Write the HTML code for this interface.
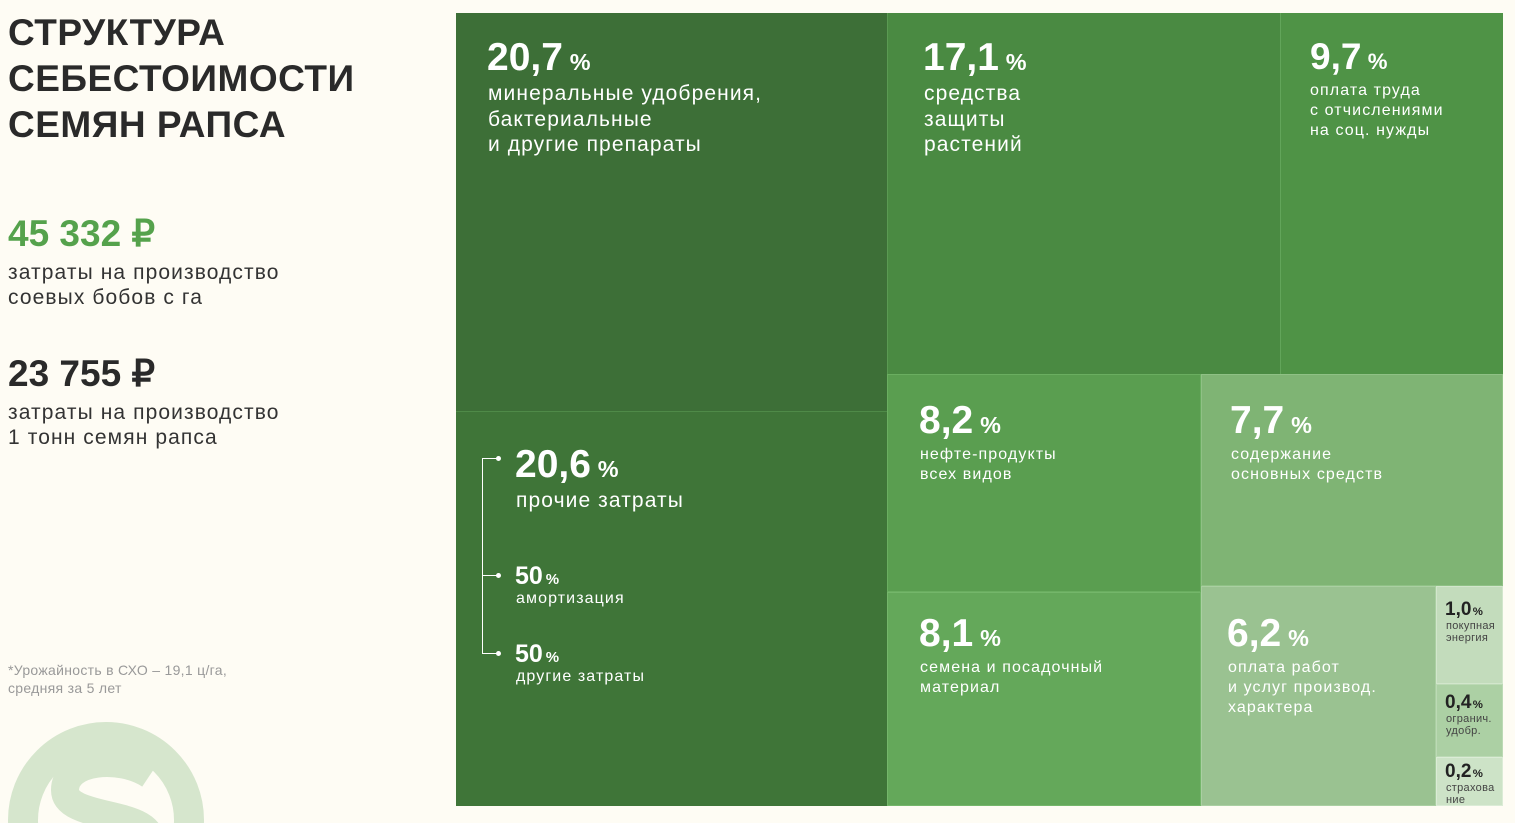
<!DOCTYPE html>
<html><head><meta charset="utf-8"><style>
*{margin:0;padding:0;box-sizing:border-box}
html,body{width:1515px;height:823px;overflow:hidden}
body{background:#fefcf4;font-family:"Liberation Sans",sans-serif;position:relative}
.a{position:absolute}
.c{position:absolute;color:#fff}
.big{font-weight:bold;letter-spacing:0px;line-height:1;white-space:nowrap}
.big small{font-size:0.6em;letter-spacing:0;margin-left:-4px}
.t{letter-spacing:1.1px;white-space:nowrap}
.dk{color:#222}
</style></head><body>
<div class="a" style="left:8px;top:10px;font-size:37px;font-weight:bold;line-height:46px;color:#2a2a2a;letter-spacing:0.5px">СТРУКТУРА<br>СЕБЕСТОИМОСТИ<br>СЕМЯН РАПСА</div>
<div class="a big" style="left:8px;top:215px;font-size:37px;color:#55a24c">45 332 ₽</div>
<div class="a t" style="left:8px;top:260px;font-size:21px;line-height:25px;color:#333">затраты на производство<br>соевых бобов с га</div>
<div class="a big" style="left:8px;top:355px;font-size:37px;color:#2a2a2a">23 755 ₽</div>
<div class="a t" style="left:8px;top:400px;font-size:21px;line-height:25px;color:#333">затраты на производство<br>1 тонн семян рапса</div>
<div class="a" style="left:8px;top:661px;font-size:14px;line-height:18px;color:#999;letter-spacing:0.3px">*Урожайность в СХО – 19,1 ц/га,<br>средняя за 5 лет</div>
<svg class="a" style="left:0;top:700px" width="240" height="123"><circle cx="106" cy="120" r="83" fill="none" stroke="#d6e6cd" stroke-width="30"/><path d="M150 75 C120 55 65 60 65 90 C65 120 150 110 150 140" fill="none" stroke="#d6e6cd" stroke-width="28"/></svg>

<div class="a" style="left:456px;top:13px;width:431px;height:398px;background:#3d6f37"></div>
<div class="a" style="left:456px;top:411px;width:431px;height:395px;background:#3f7538;border-top:1px solid #4f8a48"></div>
<div class="a" style="left:887px;top:13px;width:393px;height:361px;background:#4a8a42;border-left:1px solid #5a9a52"></div>
<div class="a" style="left:1280px;top:13px;width:223px;height:361px;background:#4f9346;border-left:1px solid #62a55a"></div>
<div class="a" style="left:887px;top:374px;width:314px;height:218px;background:#5a9e50;border:1px solid #6aae60"></div>
<div class="a" style="left:1201px;top:374px;width:302px;height:212px;background:#7fb474;border:1px solid #8fc185"></div>
<div class="a" style="left:887px;top:592px;width:314px;height:214px;background:#64a85a;border:1px solid #74b66a"></div>
<div class="a" style="left:1201px;top:586px;width:235px;height:220px;background:#9ac291;border:1px solid #aacfa2"></div>
<div class="a" style="left:1436px;top:586px;width:67px;height:98px;background:#c3dcbc;border:1px solid #d2e6cc"></div>
<div class="a" style="left:1436px;top:684px;width:67px;height:73px;background:#acd0a4;border:1px solid #bcdab5"></div>
<div class="a" style="left:1436px;top:757px;width:67px;height:49px;background:#cde3c7;border:1px solid #dbecd6"></div>

<div class="c big" style="left:487px;top:38px;font-size:39px">20,7 <small>%</small></div>
<div class="c t" style="left:488px;top:81px;font-size:21px;line-height:25.5px">минеральные удобрения,<br>бактериальные<br>и другие препараты</div>

<div class="c big" style="left:923px;top:38px;font-size:39px">17,1 <small>%</small></div>
<div class="c t" style="left:924px;top:81px;font-size:21px;line-height:25.5px">средства<br>защиты<br>растений</div>

<div class="c big" style="left:1310px;top:38px;font-size:37px">9,7 <small>%</small></div>
<div class="c t" style="left:1310px;top:81px;font-size:16px;line-height:20px">оплата труда<br>с отчислениями<br>на соц. нужды</div>

<div class="c big" style="left:919px;top:401px;font-size:39px">8,2 <small>%</small></div>
<div class="c t" style="left:920px;top:445px;font-size:16px;line-height:20px">нефте-продукты<br>всех видов</div>

<div class="c big" style="left:1230px;top:401px;font-size:39px">7,7 <small>%</small></div>
<div class="c t" style="left:1231px;top:445px;font-size:16px;line-height:20px">содержание<br>основных средств</div>

<div class="c big" style="left:919px;top:614px;font-size:39px">8,1 <small>%</small></div>
<div class="c t" style="left:920px;top:658px;font-size:16px;line-height:20px">семена и посадочный<br>материал</div>

<div class="c big" style="left:1227px;top:614px;font-size:39px">6,2 <small>%</small></div>
<div class="c t" style="left:1228px;top:658px;font-size:16px;line-height:20px">оплата работ<br>и услуг производ.<br>характера</div>

<div class="c big" style="left:515px;top:445px;font-size:39px">20,6 <small>%</small></div>
<div class="c t" style="left:516px;top:489px;font-size:21px">прочие затраты</div>
<div class="c big" style="left:515px;top:564px;font-size:25px">50 <small>%</small></div>
<div class="c t" style="left:516px;top:590px;font-size:16px">амортизация</div>
<div class="c big" style="left:515px;top:642px;font-size:25px">50 <small>%</small></div>
<div class="c t" style="left:516px;top:668px;font-size:16px">другие затраты</div>
<div class="a" style="left:482px;top:458px;width:1px;height:195px;background:#fff"></div>
<div class="a" style="left:482px;top:458px;width:16px;height:1px;background:#fff"></div>
<div class="a" style="left:482px;top:575px;width:16px;height:1px;background:#fff"></div>
<div class="a" style="left:482px;top:653px;width:16px;height:1px;background:#fff"></div>
<div class="a" style="left:496px;top:456px;width:5px;height:5px;border-radius:50%;background:#fff"></div>
<div class="a" style="left:496px;top:573px;width:5px;height:5px;border-radius:50%;background:#fff"></div>
<div class="a" style="left:496px;top:651px;width:5px;height:5px;border-radius:50%;background:#fff"></div>

<div class="a big dk" style="left:1445px;top:600px;font-size:19px">1,0 <small>%</small></div>
<div class="a dk" style="left:1446px;top:620px;font-size:11px;line-height:12px;color:#444;letter-spacing:0.3px">покупная<br>энергия</div>
<div class="a big dk" style="left:1445px;top:693px;font-size:19px">0,4 <small>%</small></div>
<div class="a dk" style="left:1446px;top:713px;font-size:11px;line-height:12px;color:#444;letter-spacing:0.3px">огранич.<br>удобр.</div>
<div class="a big dk" style="left:1445px;top:762px;font-size:19px">0,2 <small>%</small></div>
<div class="a dk" style="left:1446px;top:782px;font-size:11px;line-height:12px;color:#444;letter-spacing:0.3px">страхова<br>ние</div>
</body></html>
